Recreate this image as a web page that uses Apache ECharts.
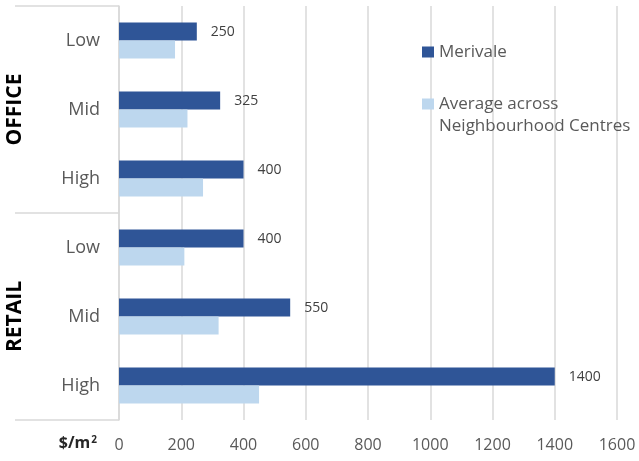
<!DOCTYPE html>
<html>
<head>
<meta charset="utf-8">
<script src="https://cdn.jsdelivr.net/npm/echarts@6/dist/echarts.min.js"></script>
<style>html,body{margin:0;padding:0;background:#fff}#c{width:639px;height:461px}</style>
</head>
<body>
<div id="c"></div>
<script>
var categories = ['Low', 'Mid', 'High', 'Low', 'Mid', 'High'];
var groups = ['OFFICE', 'RETAIL'];
var merivale = [250, 325, 400, 400, 550, 1400];
var average = [180, 220, 270, 210, 320, 450];
var xTicks = { min: 0, max: 1600, interval: 200 };
var seriesNames = ['Merivale', 'Average across\nNeighbourhood Centres'];

var FONT = '"Open Sans", "Noto Sans", sans-serif';
var chart = echarts.init(document.getElementById('c'));
chart.setOption({
  animation: false,
  textStyle: { fontFamily: FONT },
  grid: { left: 119, right: 22, top: 6, bottom: 41, containLabel: false },
  legend: {
    orient: 'vertical',
    left: 417,
    top: 36,
    itemWidth: 12,
    itemHeight: 11,
    itemGap: 8,
    itemStyle: { borderWidth: 0 },
    icon: 'rect',
    formatter: function (n) { return n === seriesNames[1] ? '\n' + n : n; },
    textStyle: { fontSize: 17, color: '#595959', fontFamily: FONT, lineHeight: 22 },
    data: [seriesNames[0], seriesNames[1]]
  },
  xAxis: {
    type: 'value',
    min: xTicks.min, max: xTicks.max, interval: xTicks.interval,
    axisLine: { show: false },
    axisTick: { show: false },
    splitLine: { lineStyle: { color: '#d9d9d9', width: 1.5 } },
    axisLabel: { fontSize: 16, color: '#595959', margin: 17, fontFamily: FONT, formatter: function (v) { return String(v); } },
    name: '{a|$/m}{s|2}',
    nameLocation: 'start',
    nameGap: 22,
    nameTextStyle: {
      verticalAlign: 'top',
      padding: [15, 0, 0, 0],
      rich: {
        a: { fontSize: 16, fontWeight: 'bold', color: '#262626', fontFamily: FONT },
        s: { fontSize: 10, fontWeight: 'bold', color: '#262626', verticalAlign: 'top', fontFamily: FONT, padding: [0, 0, 7, 1] }
      }
    }
  },
  yAxis: [
    {
      type: 'category',
      inverse: true,
      data: categories,
      axisLine: { show: true, lineStyle: { color: '#d9d9d9', width: 1.5 } },
      axisTick: { show: false },
      axisLabel: { fontSize: 18, color: '#595959', margin: 19, fontFamily: FONT }
    },
    {
      type: 'category',
      inverse: true,
      data: groups,
      position: 'left',
      offset: 104,
      axisLine: { show: false },
      axisTick: { show: true, inside: true, length: 104, lineStyle: { color: '#d9d9d9', width: 1.5 } },
      axisLabel: { rotate: 90, fontSize: 21, fontWeight: 'bold', color: '#000', margin: 0, fontFamily: FONT, align: 'center', verticalAlign: 'middle' }
    }
  ],
  series: [
    {
      name: seriesNames[0],
      type: 'bar',
      data: merivale,
      barGap: '0%',
      barCategoryGap: '48%',
      itemStyle: { color: '#2F5597' },
      label: { show: true, position: 'right', distance: 14, fontSize: 14, color: '#404040', fontFamily: FONT }
    },
    {
      name: seriesNames[1],
      type: 'bar',
      data: average,
      barGap: '0%',
      barCategoryGap: '48%',
      itemStyle: { color: '#BDD7EE' }
    }
  ]
});
</script>
</body>
</html>
